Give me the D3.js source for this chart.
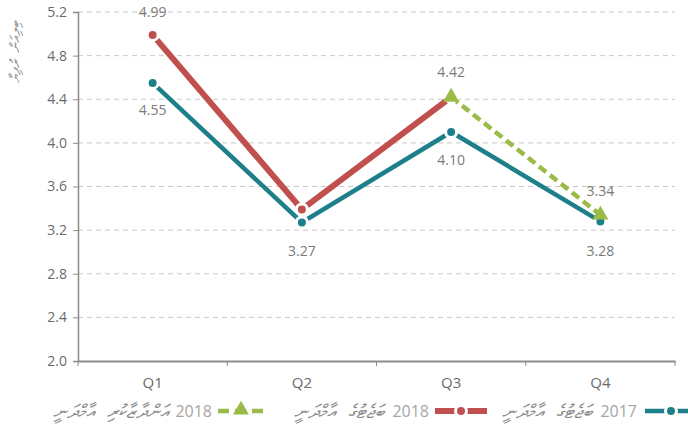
<!DOCTYPE html>
<html>
<head>
    <meta charset='utf-8'>
</head>
<style>
    body { margin: 0; background: #fff; }
    text { font-family: 'Open Sans', 'Noto Sans', 'DejaVu Sans', sans-serif; }
    .grid line { stroke: #c8c8c8; stroke-dasharray: 5,4; }
    .tick text { fill: #6b6b6b; font-size: 14px; }
    .lbl { fill: #7a7a7a; font-size: 14px; text-anchor: middle; }
    .leg { fill: #a6a6a6; font-size: 16px; }
    .thaana { fill: #8a8a8a; font-size: 19px; font-style: italic; word-spacing: 8px; }
</style>
<body>
    <div id='chart'></div>
    <script src="https://cdnjs.cloudflare.com/ajax/libs/d3/7.8.5/d3.min.js"></script>
    <script>
        var quarters = ['Q1', 'Q2', 'Q3', 'Q4'];
        var yTicks = [2.0, 2.4, 2.8, 3.2, 3.6, 4.0, 4.4, 4.8, 5.2];
        var budget2017 = [4.55, 3.27, 4.10, 3.28];
        var budget2018 = [4.99, 3.39, 4.42, null];
        var estimate2018 = [null, null, 4.42, 3.34];
        var legendNames = ['ބަޖެޓުގެ އާމްދަނީ', 'ބަޖެޓުގެ އާމްދަނީ', 'އަންދާޒާކުރި އާމްދަނީ'];
        var yTitle = 'ބިލިއަން ރުފިޔާ';

        var width = 688, height = 428;
        var margin = {top: 12, right: 13, bottom: 67, left: 78};

        var svg = d3.select('#chart').append('svg')
            .attr('width', width)
            .attr('height', height);

        var x = d3.scaleBand().domain(quarters)
            .range([margin.left, width - margin.right]);
        var y = d3.scaleLinear().domain([2.0, 5.2])
            .range([height - margin.bottom, margin.top]);

        // gridlines
        svg.append('g').attr('class', 'grid')
            .selectAll('line').data(yTicks.slice(1)).enter().append('line')
            .attr('x1', margin.left).attr('x2', width - margin.right)
            .attr('y1', function(d) { return y(d); })
            .attr('y2', function(d) { return y(d); });

        var yAxis = svg.append('g')
            .attr('transform', 'translate(' + margin.left + ',0)')
            .call(d3.axisLeft(y).tickValues(yTicks).tickFormat(d3.format('.1f')).tickSize(5).tickPadding(6));
        yAxis.select('.domain').attr('stroke', '#8c8c8c').attr('stroke-width', 1.5);
        yAxis.selectAll('.tick line').attr('stroke', '#8c8c8c');

        var xAxis = svg.append('g')
            .attr('transform', 'translate(0,' + y(2.0) + ')')
            .call(d3.axisBottom(x).tickSize(0).tickPadding(16));
        xAxis.select('.domain').attr('stroke', '#8c8c8c').attr('stroke-width', 2);
        xAxis.selectAll('.tick text').style('font-size', '15px');
        // band boundary ticks
        svg.append('g').selectAll('line')
            .data(d3.range(quarters.length + 1)).enter().append('line')
            .attr('x1', function(i) { return margin.left + i * x.bandwidth(); })
            .attr('x2', function(i) { return margin.left + i * x.bandwidth(); })
            .attr('y1', y(2.0)).attr('y2', y(2.0) + 5)
            .attr('stroke', '#8c8c8c');

        svg.append('text').attr('class', 'thaana')
            .attr('transform', 'translate(20,52) rotate(-90)')
            .attr('text-anchor', 'middle')
            .attr('direction', 'rtl')
            .style('font-size', '14px')
            .style('word-spacing', '3px')
            .text(yTitle);

        var cx = function(i) { return x(quarters[i]) + x.bandwidth() / 2; };
        var line = d3.line()
            .defined(function(d) { return d != null; })
            .x(function(d, i) { return cx(i); })
            .y(function(d) { return y(d); });

        var teal = '#1d7f8a', red = '#c0504d', green = '#9bbb47';

        svg.append('path').datum(budget2017)
            .attr('fill', 'none').attr('stroke', teal).attr('stroke-width', 4.5)
            .attr('d', line);
        svg.append('path').datum(budget2018)
            .attr('fill', 'none').attr('stroke', red).attr('stroke-width', 6)
            .attr('d', line);
        svg.append('path').datum(estimate2018)
            .attr('fill', 'none').attr('stroke', green).attr('stroke-width', 4.5)
            .attr('stroke-dasharray', '9,5')
            .attr('d', line);

        function dots(data, color) {
            svg.append('g').selectAll('circle')
                .data(data.map(function(v, i) { return {v: v, i: i}; }).filter(function(d) { return d.v != null; }))
                .enter().append('circle')
                .attr('cx', function(d) { return cx(d.i); })
                .attr('cy', function(d) { return y(d.v); })
                .attr('r', 5.5)
                .attr('fill', color)
                .attr('stroke', '#fff').attr('stroke-width', 3);
        }
        dots(budget2017, teal);
        dots(budget2018, red);

        var tri = d3.symbol().type(d3.symbolTriangle).size(110);
        svg.append('g').selectAll('path')
            .data(estimate2018.map(function(v, i) { return {v: v, i: i}; }).filter(function(d) { return d.v != null; }))
            .enter().append('path')
            .attr('transform', function(d) { return 'translate(' + cx(d.i) + ',' + y(d.v) + ')'; })
            .attr('d', tri)
            .attr('fill', green);

        // value labels
        var labels = [
            {s: budget2018, i: 0, dy: -23},
            {s: budget2017, i: 0, dy: 27},
            {s: budget2017, i: 1, dy: 29},
            {s: estimate2018, i: 2, dy: -25},
            {s: budget2017, i: 2, dy: 28},
            {s: estimate2018, i: 3, dy: -24},
            {s: budget2017, i: 3, dy: 30}
        ];
        svg.append('g').selectAll('text').data(labels).enter().append('text')
            .attr('class', 'lbl')
            .attr('x', function(d) { return cx(d.i); })
            .attr('y', function(d) { return y(d.s[d.i]) + d.dy; })
            .attr('dy', '0.35em')
            .text(function(d) { return d.s[d.i].toFixed(2); });

        // legend (right to left)
        var ly = 411;
        var leg = svg.append('g');
        function legSym(x0, color, kind) {
            if (kind === 'dash') {
                leg.append('line').attr('x1', x0).attr('x2', x0 + 47).attr('y1', ly).attr('y2', ly)
                    .attr('stroke', color).attr('stroke-width', 4.5).attr('stroke-dasharray', '11,6');
                leg.append('path').attr('transform', 'translate(' + (x0 + 23) + ',' + (ly - 1) + ')')
                    .attr('d', tri).attr('fill', color);
            } else {
                leg.append('line').attr('x1', x0).attr('x2', x0 + 52).attr('y1', ly).attr('y2', ly)
                    .attr('stroke', color).attr('stroke-width', kind === 'thick' ? 6 : 4.5);
                leg.append('circle').attr('cx', x0 + 26).attr('cy', ly).attr('r', 5.5)
                    .attr('fill', color).attr('stroke', '#fff').attr('stroke-width', 3);
            }
        }
        legSym(645, teal, 'thin');
        leg.append('text').attr('class', 'leg').attr('x', 637).attr('y', ly).attr('dy', '0.35em')
            .attr('text-anchor', 'end').text('2017');
        leg.append('text').attr('class', 'thaana').attr('x', 592).attr('y', ly).attr('dy', '0.35em')
            .attr('text-anchor', 'start').attr('direction', 'rtl').text(legendNames[0]);

        legSym(435, red, 'thick');
        leg.append('text').attr('class', 'leg').attr('x', 429).attr('y', ly).attr('dy', '0.35em')
            .attr('text-anchor', 'end').text('2018');
        leg.append('text').attr('class', 'thaana').attr('x', 384).attr('y', ly).attr('dy', '0.35em')
            .attr('text-anchor', 'start').attr('direction', 'rtl').text(legendNames[1]);

        legSym(218, green, 'dash');
        leg.append('text').attr('class', 'leg').attr('x', 212).attr('y', ly).attr('dy', '0.35em')
            .attr('text-anchor', 'end').text('2018');
        leg.append('text').attr('class', 'thaana').attr('x', 168).attr('y', ly).attr('dy', '0.35em')
            .attr('text-anchor', 'start').attr('direction', 'rtl').text(legendNames[2]);
    </script>
</body>
</html>
